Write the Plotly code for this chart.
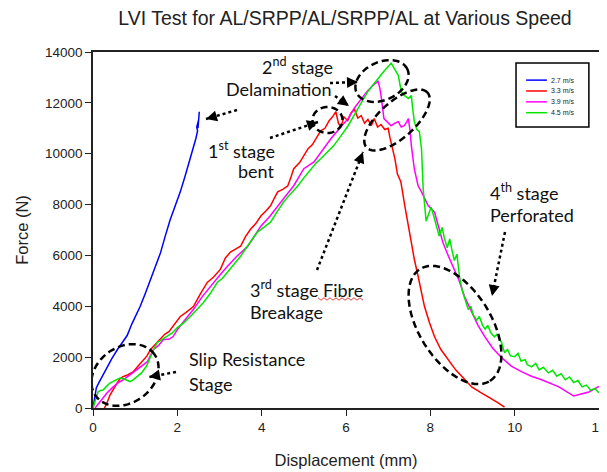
import math
from plotly import graph_objects as go

# LVI test curves, force (N) vs displacement (mm)
x_27 = [0, 0.04, 0.08, 0.14, 0.22, 0.32, 0.45, 0.58, 0.7, 0.81, 0.92, 1.02, 1.12, 1.24, 1.36, 1.48,
        1.6, 1.72, 1.83, 1.95, 2.07, 2.19, 2.31, 2.38, 2.44, 2.48, 2.46, 2.5, 2.49, 2.52]
f_27 = [0, 450, 800, 1000, 1250, 1550, 1950, 2300, 2600, 2850, 3300, 3650, 4000, 4500, 5050, 5550,
        6100, 6800, 7400, 7950, 8500, 9150, 9800, 10200, 10600, 10900, 11050, 11300, 11000, 11650]

x_33 = [0.27, 0.32, 0.4, 0.48, 0.57, 0.64, 0.71, 0.82, 0.95, 1.07, 1.19, 1.28, 1.36, 1.48, 1.6, 1.7,
        1.8, 1.92, 2.07, 2.2, 2.38, 2.55, 2.71, 2.86, 3.02, 3.14, 3.26, 3.38, 3.5, 3.62, 3.74, 3.86,
        3.98, 4.1, 4.21, 4.3, 4.38, 4.5, 4.62, 4.7, 4.76, 4.9, 5.0, 5.1, 5.2, 5.3, 5.4, 5.5, 5.6,
        5.68, 5.76, 5.82, 5.88, 5.95, 6.04, 6.12, 6.2, 6.28, 6.36, 6.44, 6.52, 6.6, 6.67, 6.75, 6.83,
        6.92, 7.0, 7.04, 7.1, 7.16, 7.22, 7.3, 7.4, 7.48, 7.56, 7.62, 7.71, 7.78, 7.86, 7.98, 8.1,
        8.25, 8.43, 8.6, 8.8, 8.98, 9.18, 9.38, 9.58, 9.76]
f_33 = [0, 150, 500, 750, 980, 1150, 1230, 1300, 1420, 1650, 1900, 2050, 2290, 2500, 2690, 2900,
        3000, 3250, 3600, 3750, 3990, 4500, 4940, 5150, 5450, 5900, 6130, 6250, 6360, 6750, 7040, 7250,
        7550, 7750, 7950, 8250, 8500, 8600, 8740, 9100, 9410, 9650, 9900, 10200, 10350, 10650, 10900, 11000, 11300,
        11450, 11650, 11200, 11050, 11450, 11300, 11600, 11750, 11400, 11500, 11200, 11350, 11100, 11380, 11050, 11150,
        10950, 11000, 10650, 10200, 9800, 9200, 8900, 7900, 7150, 6400, 5850, 5180, 4600, 4000, 3350, 2800,
        2300, 1900, 1500, 1150, 830, 620, 430, 230, 30]

x_39 = [0.05, 0.17, 0.33, 0.48, 0.6, 0.71, 0.83, 0.95, 1.12, 1.29, 1.43, 1.55, 1.67, 1.8, 1.9, 2.0,
        2.15, 2.38, 2.6, 2.86, 3.02, 3.19, 3.4, 3.67, 3.82, 3.98, 4.2, 4.38, 4.55, 4.76, 4.9, 5.0,
        5.24, 5.44, 5.64, 5.85, 6.05, 6.2, 6.36, 6.5, 6.64, 6.76, 6.8, 6.83, 6.9, 6.98, 7.07, 7.16,
        7.24, 7.31, 7.38, 7.44, 7.48, 7.52, 7.55, 7.62, 7.71, 7.79, 7.87, 7.95, 8.1, 8.19, 8.3, 8.43,
        8.55, 8.67, 8.82, 8.98, 9.13, 9.29, 9.48, 9.69, 9.92, 10.17, 10.4, 10.64, 10.85, 11.05, 11.22,
        11.4, 11.58, 11.76, 12.0]
f_39 = [0, 240, 590, 830, 1000, 1100, 1250, 1380, 1620, 1820, 2290, 2450, 2690, 2700, 2810, 3080,
        3400, 3870, 4400, 4940, 5250, 5570, 5950, 6360, 6750, 7150, 7550, 7950, 8300, 8740, 9100, 9410,
        9680, 10150, 10590, 11000, 11380, 11800, 12170, 12450, 12690, 12850, 12600, 12290, 11380, 11250, 11100, 11200,
        11260, 11050, 11100, 11250, 11380, 10900, 10320, 9400, 8740, 8500, 8200, 7950, 7700, 7150, 6500, 5970,
        5500, 5060, 4350, 3750, 3250, 2810, 2350, 1980, 1650, 1420, 1250, 1110, 960, 830, 650,
        470, 550, 630, 850]

x_45 = [0.0, 0.06, 0.12, 0.18, 0.24, 0.32, 0.4, 0.48, 0.56, 0.64, 0.72, 0.8, 0.88, 0.96, 1.05, 1.15,
        1.27, 1.36, 1.44, 1.52, 1.64, 1.76, 1.88, 2.0, 2.15, 2.31, 2.46, 2.62, 2.78, 2.95, 3.07, 3.19,
        3.35, 3.5, 3.7, 3.9, 4.05, 4.21, 4.36, 4.52, 4.7, 4.86, 5.0, 5.17, 5.3, 5.4, 5.55, 5.71,
        5.88, 6.05, 6.17, 6.29, 6.4, 6.52, 6.64, 6.76, 6.9, 7.07, 7.16, 7.24, 7.31, 7.38, 7.48, 7.55,
        7.58, 7.62, 7.68, 7.74, 7.79, 7.83, 7.9, 7.96, 8.02, 8.1, 8.16, 8.21, 8.28, 8.33, 8.4, 8.46,
        8.52, 8.57, 8.63, 8.69, 8.76, 8.83, 8.9, 8.96, 9.02, 9.1, 9.16, 9.24, 9.3, 9.36, 9.44, 9.52,
        9.58, 9.69, 9.76, 9.83, 9.9, 10.0, 10.08, 10.15, 10.25, 10.3, 10.4, 10.5, 10.58, 10.68, 10.8,
        10.9, 11.0, 11.1, 11.2, 11.3, 11.4, 11.5, 11.6, 11.7, 11.8, 11.9, 12.0]
f_45 = [0, 350, 640, 690, 710, 850, 980, 1050, 1100, 1180, 1150, 1100, 1040, 1120, 1230, 1380,
        1650, 2020, 2300, 2570, 2700, 2810, 2950, 3160, 3350, 3600, 3850, 4150, 4500, 4940, 5100, 5340,
        5650, 5970, 6450, 6920, 7100, 7310, 7700, 8100, 8450, 8740, 9050, 9410, 9650, 9800, 10050, 10320,
        10700, 11100, 11450, 11780, 12100, 12450, 12700, 12960, 13240, 13560, 13300, 13080, 12450, 12290, 12170, 12290,
        11800, 11260, 10950, 10870, 10200, 8620, 7350, 7600, 7900, 7430, 7000, 6760, 7100, 6700, 6300, 6650,
        6150, 5800, 6050, 5180, 4600, 4200, 3870, 4000, 3650, 3450, 3600, 3250, 3100, 3250, 2950, 2800,
        2900, 2570, 2170, 2300, 2050, 2020, 2150, 1850, 1900, 1700, 1620, 1750, 1500, 1600, 1380,
        1480, 1250, 1350, 1110, 1220, 1000, 1080, 830, 900, 700, 760, 600]

speeds = ["2.7 m/s", "3.3 m/s", "3.9 m/s", "4.5 m/s"]
colors = ["#0000ff", "#ff0000", "#ff00ff", "#00e600"]
curves = [(x_27, f_27), (x_33, f_33), (x_39, f_39), (x_45, f_45)]

# plot area in page pixels, used to place the hand drawn markup
X0, X1, Y0, Y1 = 93, 599, 408, 52
PX_MM = (X1 - X0) / 12.0
PX_N = (Y0 - Y1) / 14000.0
PAGE_OFF = 8  # body margin of the html page


def to_data(px, py):
    return (px - X0) / PX_MM, (Y0 - py) / PX_N


def ellipse(cx, cy, a, b, ang):
    t = math.radians(ang)
    pts = []
    for i in range(61):
        s = 2 * math.pi * i / 60
        dx = a * math.cos(s) * math.cos(t) - b * math.sin(s) * math.sin(t)
        dy = a * math.cos(s) * math.sin(t) + b * math.sin(s) * math.cos(t)
        x, y = to_data(cx + dx, cy - dy)
        pts.append(f"{x:.4f},{y:.1f}")
    return "M" + " L".join(pts) + " Z"


fig = go.Figure()
for (xs, ys), name, c in zip(curves, speeds, colors):
    fig.add_trace(go.Scatter(x=xs, y=ys, mode="lines", name=name,
                             line=dict(color=c, width=1.5), showlegend=False))

# dashed ellipses
for cx, cy, a, b, ang in [(125, 375, 36, 28, 35), (327.5, 120, 15, 13, 0), (382, 81, 28, 19, 25),
                          (397, 120, 41, 18, 42), (455, 325, 66, 36, -58)]:
    fig.add_shape(type="path", path=ellipse(cx, cy, a, b, ang), xref="x", yref="y",
                  line=dict(color="black", width=2.5, dash="7px,4px"))

# dotted arrows
for (tx, ty), (hx, hy) in [((237, 110), (206, 119)), ((270, 138), (318, 122)), ((330, 83), (358, 82)),
                           ((335, 96), (349, 106)), ((317, 270), (363, 152)), ((505, 232), (492, 296)),
                           ((176, 372), (149, 377))]:
    ax0, ay0 = to_data(tx, ty)
    ax1, ay1 = to_data(hx, hy)
    fig.add_shape(type="line", x0=ax0, y0=ay0, x1=ax1, y1=ay1, xref="x", yref="y",
                  line=dict(color="black", width=2.5, dash="dot"))
    L = math.hypot(tx - hx, ty - hy)
    fig.add_annotation(x=ax1, y=ay1, xref="x", yref="y", text="", showarrow=True,
                       ax=(tx - hx) / L * 8, ay=(ty - hy) / L * 8, arrowhead=2,
                       arrowsize=1.1, arrowwidth=2, arrowcolor="black", standoff=0)

# stage labels
labels = [("2<sup>nd</sup> stage", 335, 66, "right"), ("Delamination", 334, 89, "right"),
          ("1<sup>st</sup> stage", 277, 150, "right"), ("bent", 277, 171, "right"),
          ("3<sup>rd</sup> stage Fibre", 248, 289, "left"), ("Breakage", 248, 312, "left"),
          ("4<sup>th</sup> stage", 488, 192, "left"), ("Perforated", 488, 215, "left"),
          ("Slip Resistance", 187, 359, "left"), ("Stage", 187, 384, "left")]
for txt, px, py, anchor in labels:
    x, y = to_data(px, py)
    fig.add_annotation(x=x, y=y, xref="x", yref="y", text=txt, showarrow=False,
                       xanchor=anchor, yanchor="middle",
                       font=dict(family="Lato", size=18, color="#111"))

# spellcheck squiggle under "Fibre"
sq = []
for i in range(16):
    x, y = to_data(318 + i * 3, 299 + (1.2 if i % 2 else -1.2))
    sq.append(f"{x:.4f},{y:.1f}")
fig.add_shape(type="path", path="M" + " L".join(sq), xref="x", yref="y",
              line=dict(color="#e04040", width=1))

# legend box drawn by hand (small like the original)
fig.add_shape(type="rect", xref="paper", yref="paper", x0=0.836, x1=0.980, y0=0.789, y1=0.969,
              line=dict(color="black", width=1.5), fillcolor="white")
for i, (name, c) in enumerate(zip(speeds, colors)):
    yy = 0.921 - i * 0.0305
    fig.add_shape(type="line", xref="paper", yref="paper", x0=0.856, x1=0.897, y0=yy, y1=yy,
                  line=dict(color=c, width=1.5))
    fig.add_annotation(x=0.901, y=yy, xref="paper", yref="paper", text=name, showarrow=False,
                       xanchor="left", yanchor="middle",
                       font=dict(family="Liberation Sans", size=7, color="#222"))

W, H = 607 - PAGE_OFF, 472 - PAGE_OFF
fig.update_layout(
    width=W, height=H,
    margin=dict(l=X0 - PAGE_OFF, r=607 - X1, t=Y1 - PAGE_OFF, b=472 - Y0),
    paper_bgcolor="white", plot_bgcolor="white",
    font=dict(family="Liberation Sans", color="#222"),
    title=dict(text="LVI Test for AL/SRPP/AL/SRPP/AL at Various Speed", x=0.498, xref="paper",
               y=1 - (18 - PAGE_OFF) / H, yref="container", yanchor="middle", xanchor="center",
               font=dict(size=19.5, color="#222")),
    showlegend=False,
)
fig.update_xaxes(range=[0, 12], tickvals=[0, 2, 4, 6, 8, 10, 12], ticks="outside", ticklen=6,
                 tickcolor="#222", showline=True, linecolor="#222", linewidth=1.5, mirror=True,
                 showgrid=False, zeroline=False, tickfont=dict(size=13.5), automargin=False,
                 title=dict(text="Displacement (mm)", font=dict(size=16.5), standoff=20))
fig.update_yaxes(range=[0, 14000], dtick=2000, tickformat="d", ticks="outside", ticklen=6,
                 tickcolor="#222", showline=True, linecolor="#222", linewidth=1.5, mirror=True,
                 showgrid=False, zeroline=False, tickfont=dict(size=13.5), automargin=False,
                 title=dict(text="Force (N)", font=dict(size=16.5), standoff=12))

fig.write_html("out.html")
